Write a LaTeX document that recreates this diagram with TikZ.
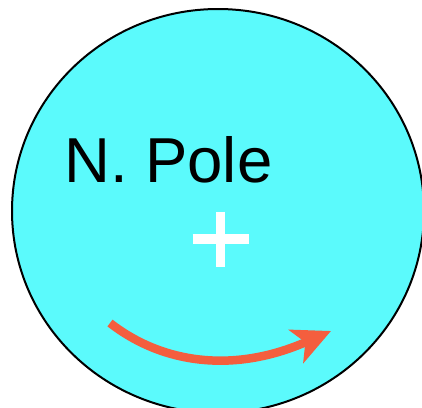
\documentclass[tikz,border=0pt]{standalone}
\usepackage{fontspec}
\setmainfont{Liberation Sans}
\usetikzlibrary{arrows.meta}
\definecolor{disccyan}{RGB}{91,250,252}
\definecolor{arroworange}{RGB}{244,94,62}
\tikzset{
  discstyle/.style={fill=disccyan,draw=black,line width=2pt},
  plusbar/.style={draw=white,line width=9.5pt},
  turnarrow/.style={draw=arroworange,line width=8.5pt,-{Stealth[length=38pt,width=36pt,inset=10pt]}},
  poletext/.style={inner sep=0pt,anchor=base west,font=\fontsize{63.5}{63.5}\selectfont}
}
\begin{document}
\begin{tikzpicture}[x=1pt,y=-1pt]
\useasboundingbox (0,0) rectangle (422,407);
\clip (0,0) rectangle (422,407);
\draw[discstyle] (218,211) ellipse [x radius=206, y radius=202];
\node[poletext] (label) at (64,182) {N. Pole};
\coordinate (plusc) at (220.5,239);
\draw[plusbar] ([xshift=-28pt]plusc) -- ([xshift=28pt]plusc);
\draw[plusbar] ([yshift=27.5pt]plusc) -- ([yshift=-27.5pt]plusc);
\coordinate (astart) at (110,323);
\coordinate (aend) at (331,331);
\draw[turnarrow] (astart) .. controls (160,362) and (231,375) .. (aend);
\end{tikzpicture}
\end{document}
